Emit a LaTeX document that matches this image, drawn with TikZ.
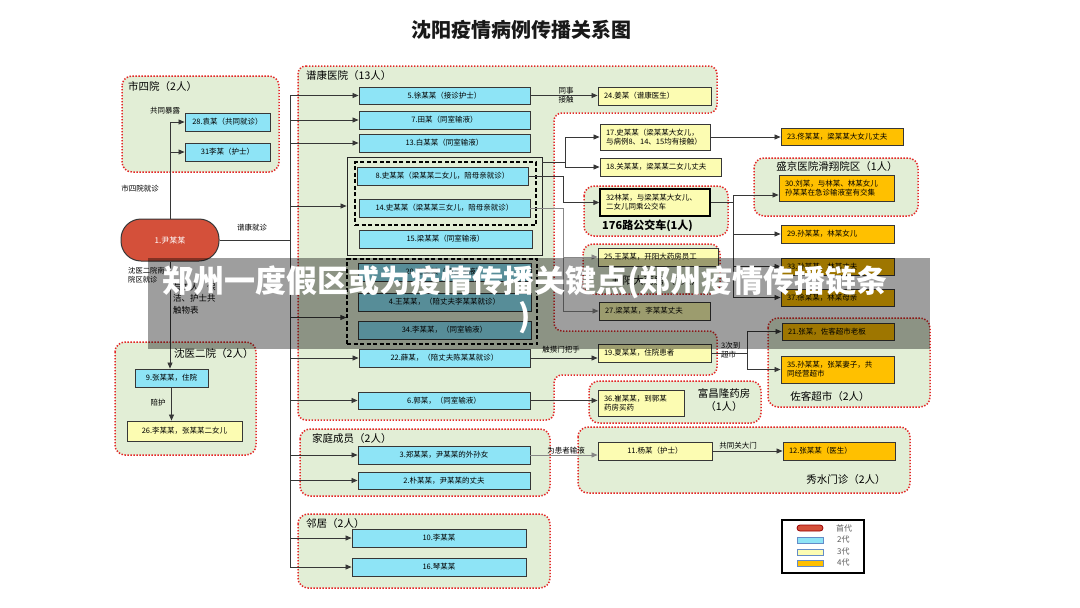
\documentclass[tikz,border=0pt]{standalone}
\usepackage{fontspec}
\setmainfont{Noto Sans CJK SC}
\usetikzlibrary{arrows.meta}
\definecolor{gfill}{RGB}{226,238,214}
\definecolor{gred}{RGB}{228,38,38}
\definecolor{ccyan}{RGB}{142,228,246}
\definecolor{cyel}{RGB}{252,252,178}
\definecolor{corange}{RGB}{255,192,0}
\definecolor{cred}{RGB}{212,80,58}
\definecolor{lnc}{RGB}{55,55,55}
\definecolor{lng}{RGB}{135,135,135}
\definecolor{legb}{RGB}{100,140,200}
\tikzset{
 grp/.style={fill=gfill, draw=gred, line width=1.5pt, dash pattern=on 1.4pt off 1.6pt, rounded corners=10pt},
 bx/.style={draw=lnc, line width=0.9pt, inner sep=0pt, font=\fontsize{7.5}{9}\selectfont, text=black},
 cb/.style={bx, fill=ccyan, align=center},
 yb/.style={bx, fill=cyel},
 ob/.style={bx, fill=corange},
 redn/.style={draw=lnc, line width=1pt, fill=cred, rounded corners=20pt, text=white, inner sep=0pt, font=\fontsize{8}{9}\selectfont},
 dsh/.style={draw=black, line width=1.2pt, dash pattern=on 4pt off 2.5pt, inner sep=0pt},
 sol/.style={draw=black!85, line width=0.9pt, inner sep=0pt},
 arr/.style={draw=lnc, line width=0.8pt, -{Triangle[length=6pt,width=5pt]}},
 ln/.style={draw=lnc, line width=0.8pt},
 lab/.style={font=\fontsize{7.5}{9}\selectfont, inner sep=0pt, align=left, text=black},
 gt/.style={font=\fontsize{10.5}{12}\selectfont, inner sep=0pt, text=black},
 legl/.style={font=\fontsize{8}{9}\selectfont, inner sep=0pt, text=black!65, anchor=west},
}
\newcommand\bxc[7]{%
 \pgfmathsetmacro\myW{#5-#3}\pgfmathsetmacro\myH{#6-#4}%
 \pgfmathsetmacro\myX{(#3+#5)/2}\pgfmathsetmacro\myY{(#4+#6)/2}%
 \node[#1,minimum width=\myW pt,minimum height=\myH pt] (#2) at (\myX,\myY) {#7};}
\newcommand\bxl[7]{%
 \pgfmathsetmacro\myW{#5-#3-12}\pgfmathsetmacro\myH{#6-#4}%
 \pgfmathsetmacro\myX{(#3+#5)/2}\pgfmathsetmacro\myY{(#4+#6)/2}%
 \node[#1,text width=\myW pt,inner xsep=6pt,align=left,minimum height=\myH pt] (#2) at (\myX,\myY) {#7};}
\begin{document}
\begin{tikzpicture}[x=1pt,y=-1pt]
\useasboundingbox (0,0) rectangle (1080,608);
\fill[white] (0,0) rectangle (1080,608);
% title
\node[font=\bfseries\fontsize{20}{23}\selectfont, text=black!90] (title) at (521,30) {沈阳疫情病例传播关系图};
% groups
\path[grp] (122,76) rectangle (279,172);
\path[grp] (115,342) rectangle (256,455);
\path[grp, rounded corners=8pt] (298,66) -- (717,66) -- (717,113) -- (554,113) -- (554,331) -- (717,331) -- (717,375) -- (554,375) -- (554,420) -- (298,420) -- cycle;
\path[grp] (584,186) rectangle (728,236);
\path[grp] (754,158) rectangle (918,216);
\path[grp] (583,244) rectangle (720,294);
\path[grp] (768,318) rectangle (930,407);
\path[grp] (589,381) rectangle (761,423);
\path[grp] (578,427) rectangle (910,493);
\path[grp] (300,429) rectangle (550,496);
\path[grp] (298,514) rectangle (550,588);
% group titles
\node[gt, anchor=west] (gt1) at (128,87) {市四院（2人）};
\node[gt, anchor=west] (gt2) at (174,354) {沈医二院（2人）};
\node[gt, anchor=west] (gt3) at (306,76) {谱康医院（13人）};
\node[gt, anchor=west] (gt4) at (312,439) {家庭成员（2人）};
\node[gt, anchor=west] (gt5) at (306,524) {邻居（2人）};
\node[gt, anchor=west, font=\bfseries\fontsize{11}{12}\selectfont] (gt6) at (602,226) {176路公交车(1人)};
\node[gt] (gt7) at (837,167) {盛京医院滑翔院区（1人）};
\node[gt] (gt8) at (657,281) {开阳大药房（1人）};
\node[gt] (gt9) at (830,397) {佐客超市（2人）};
\node[gt, align=center, font=\fontsize{10.5}{13.5}\selectfont] (gt10) at (724,400) {富昌隆药房\\（1人）};
\node[gt] (gt11) at (846,480) {秀水门诊（2人）};
% frames inside 谱康
\bxc{sol}{g1}{347}{157}{542}{255}{}
\bxc{dsh}{d1}{355}{162}{536}{225}{}
\bxc{dsh}{d2}{347}{259}{537}{344}{}
% boxes left
\bxc{cb}{b28}{185}{113}{270}{131}{28.袁某（共同就诊）}
\bxc{cb}{b31}{185}{143}{270}{161}{31李某（护士）}
\bxc{redn}{n1}{121}{219}{219}{261}{1.尹某某}
\bxc{cb}{b9}{135}{369}{208}{387}{9.张某某，住院}
\bxc{yb}{b26}{127}{421}{242}{441}{26.李某某，张某某二女儿}
% boxes middle
\bxc{cb}{b5}{359}{87}{530}{104}{5.徐某某（接诊护士）}
\bxc{cb}{b7}{359}{111}{530}{129}{7.田某（同室输液）}
\bxc{cb}{b13}{359}{134}{530}{152}{13.白某某（同室输液）}
\bxc{cb}{b8}{357}{167}{528}{185}{8.史某某（梁某某二女儿，陪母亲就诊）}
\bxc{cb}{b14}{359}{199}{530}{217}{14.史某某（梁某某三女儿，陪母亲就诊）}
\bxc{cb}{b15}{359}{230}{532}{248}{15.梁某某（同室输液）}
\bxc{cb}{b20}{358}{263}{531}{281}{20.王某某（同室输液）}
\bxc{cb}{b4}{358}{293}{531}{311}{4.王某某，（陪丈夫李某某就诊）}
\bxc{cb}{b34}{358}{321}{531}{339}{34.李某某，（同室输液）}
\bxc{cb}{b22}{359}{349}{530}{367}{22.薛某，（陪丈夫陈某某就诊）}
\bxc{cb}{b6}{358}{392}{530}{409}{6.郭某，（同室输液）}
\bxc{cb}{b3}{358}{446}{530}{464}{3.郑某某，尹某某的外孙女}
\bxc{cb}{b2}{358}{472}{530}{489}{2.朴某某，尹某某的丈夫}
\bxc{cb}{b10}{352}{529}{526}{547}{10.李某某}
\bxc{cb}{b16}{352}{558}{526}{576}{16.琴某某}
% boxes right (3rd generation)
\bxl{yb}{b24}{598}{87}{711}{105}{24.姜某（谱康医生）}
\bxl{yb}{b17}{600}{124}{710}{150}{17.史某某（梁某某大女儿，\\与病例8、14、15均有接触）}
\bxl{yb}{b18}{600}{158}{721}{176}{18.关某某，梁某某二女儿丈夫}
\bxl{yb, draw=black, line width=1.3pt}{b32}{600}{189}{710}{216}{32林某，与梁某某大女儿、\\二女儿同乘公交车}
\bxl{yb}{b25}{598}{248}{718}{266}{25.王某某，开阳大药房员工}
\bxl{yb}{b27}{599}{302}{710}{320}{27.梁某某，李某某丈夫}
\bxl{yb}{b19}{598}{344}{711}{362}{19.夏某某，住院患者}
\bxl{yb}{b36}{598}{390}{684}{416}{36.崔某某，到郭某\\药房买药}
\bxc{yb}{b11}{598}{442}{712}{460}{11.杨某（护士）}
% boxes far right (4th generation)
\bxl{ob}{b23}{781}{128}{903}{145}{23.佟某某，梁某某大女儿丈夫}
\bxl{ob}{b30}{779}{175}{894}{201}{30.刘某，与林某、林某女儿\\孙某某在急诊输液室有交集}
\bxl{ob}{b29}{781}{225}{894}{243}{29.孙某某，林某女儿}
\bxl{ob}{b33}{781}{258}{894}{275}{33.孙某某，林某丈夫}
\bxl{ob}{b37}{781}{289}{894}{306}{37.徐某某，林某母亲}
\bxl{ob}{b21}{782}{323}{894}{340}{21.张某，佐客超市老板}
\bxl{ob}{b35}{781}{356}{894}{383}{35.孙某某，张某妻子，共\\同经营超市}
\bxl{ob}{b12}{783}{442}{895}{460}{12.张某某（医生）}
% labels
\node[lab] (l1) at (165,111) {共同暴露};
\node[lab] (l2) at (140,189) {市四院就诊};
\node[lab] (l3) at (252,228) {谱康就诊};
\node[lab, anchor=north west, font=\fontsize{7.3}{9}\selectfont] (l4) at (128,267) {沈医二院南\\院区就诊};
\node[lab, anchor=north west, font=\fontsize{8.5}{11.5}\selectfont] (l5) at (173,283) {与工人、保\\洁、护士共\\触物表};
\node[lab] (l6) at (158,403) {陪护};
\node[lab, align=center] (l7) at (566,95) {同事\\接触};
\node[lab] (l8) at (561,350) {触摸门把手};
\node[lab] (l9) at (566,451) {为患者输液};
\node[lab] (l10) at (738,446) {共同关大门};
\node[lab, anchor=north west] (l11) at (721,342) {3次到\\超市};
% connectors left
\draw[ln] (n1.north) -- (n1.north |- b28.west);
\draw[arr] (n1.north |- b28.west) -- (b28.west);
\draw[arr] (n1.north |- b31.west) -- (b31.west);
\draw[arr] (n1.south) -- (n1.south |- b9.north);
\draw[arr] (b9.south) -- (b9.south |- b26.north);
% trunk
\coordinate (tr) at (290,96);
\draw[ln] (tr) -- (tr |- b16.west);
\draw[ln] (n1.east) -- (n1.east -| tr);
\coordinate (d2in) at ([yshift=-16pt]d2.west);
\foreach \b in {b5,b7,b13,g1,b22,b6,b3,b2,b10,b16}{\draw[arr] (tr |- \b.west) -- (\b.west);}
\draw[arr] (tr |- d2in) -- (d2in);
% connectors right
\draw[arr] (b5.east) -- (b5.east -| b24.west);
\coordinate (j1) at (565,162);
\draw[ln] (j1 -| g1.east) -- (j1);
\draw[arr] (j1) |- (b17.west);
\draw[arr] (j1) |- (b18.west);
\draw[arr] (b8.east) -- ++(35,0) |- (b32.west);
\draw[arr, draw=lng] (b14.east) -- ++(33,0) |- (b25.west);
\draw[arr, draw=lng] (b14.east) ++(33,0) |- (b27.west);
\draw[arr] (b17.east) -- (b17.east -| b23.west);
\draw[ln] (b32.east) -- ++(23,0) coordinate (j3);
\draw[arr] (j3) |- ([yshift=-7pt]b30.west);
\draw[arr] (j3) |- (b29.west);
\draw[arr] (j3) |- (b33.west);
\draw[arr] (j3) |- (b37.west);
\draw[arr] (b22.east) -- (b22.east -| b19.west);
\draw[ln] (b19.east) -- ++(36,0) coordinate (j4);
\draw[arr] (j4) |- (b21.west);
\draw[arr] (j4) |- (b35.west);
\draw[arr] (b6.east) -- (b6.east -| b36.west);
\draw[arr, draw=lng] (b3.east) -- (b3.east -| b11.west);
\draw[arr] (b11.east) -- (b11.east -| b12.west);
% legend
\bxc{draw=black, line width=1.1pt, fill=white, inner sep=0pt}{leg}{782}{520}{864}{573}{}
\bxc{draw=red!60!black, fill=cred, rounded corners=3pt, line width=0.8pt, inner sep=0pt}{s1}{797}{525}{823}{531}{}
\bxc{draw=legb, fill=ccyan, line width=0.8pt, inner sep=0pt}{s2}{797}{537}{823}{543}{}
\bxc{draw=legb, fill=cyel, line width=0.8pt, inner sep=0pt}{s3}{797}{549}{823}{555}{}
\bxc{draw=legb, fill=corange, line width=0.8pt, inner sep=0pt}{s4}{797}{560}{823}{566}{}
\node[legl] (t1) at (836,528) {首代};
\node[legl] (t2) at (837,540) {2代};
\node[legl] (t3) at (837,552) {3代};
\node[legl] (t4) at (837,563) {4代};
% watermark band
\fill[black, opacity=0.38] (148,258) rectangle (930,349);
\node[text=white, font=\bfseries\fontsize{31}{35}\selectfont, align=center, inner sep=0pt] (wm) at (525,300) {郑州一度假区或为疫情传播关键点(郑州疫情传播链条\\)};
\end{tikzpicture}
\end{document}
